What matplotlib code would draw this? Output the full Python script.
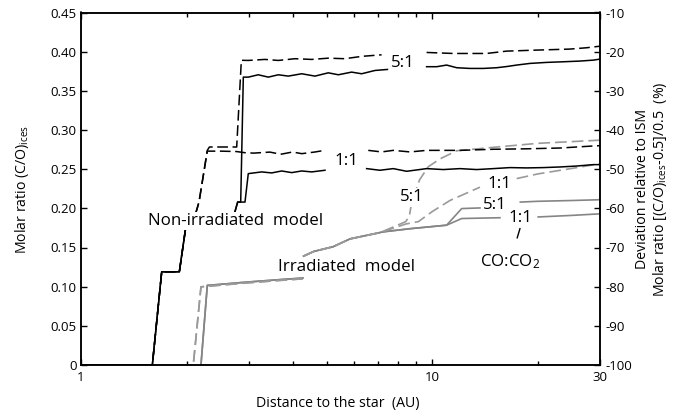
import numpy as np
import matplotlib
matplotlib.use('Agg')
import matplotlib.pyplot as plt
from matplotlib.ticker import NullFormatter

plt.rcParams['font.family'] = ['Open Sans', 'DejaVu Sans']
plt.rcParams['mathtext.fontset'] = 'custom'
plt.rcParams['mathtext.rm'] = 'Open Sans'
plt.rcParams['mathtext.it'] = 'Open Sans'

nan = np.nan

# ---------------- data (distance in AU, molar ratio (C/O)_ices) ----------------
# Non-irradiated model (black)
nonirr_solid_51_x = [1.0, 1.596, 1.697, 1.905, 1.99, 2.05, 2.70, 2.792, 2.848, 2.897, 2.993, 3.195, 3.412,
                     3.645, 3.890, 4.247, 4.634, 5.056, 5.40, 5.89, 6.292, 6.865, 7.45, nan, 9.63, 10.29,
                     10.98, 11.73, 12.79, 13.96, 15.24, 16.27, 17.38, 18.96, 21.15, 23.58, 26.31, 28.71, 30.0]
nonirr_solid_51_y = [0, 0, 0.119, 0.119, 0.178, 0.180, 0.185, 0.208, 0.208, 0.3675, 0.3675, 0.3705, 0.3675,
                     0.3705, 0.3688, 0.3718, 0.3688, 0.373, 0.3705, 0.3739, 0.3718, 0.376, 0.3773, nan, 0.3808,
                     0.3808, 0.3829, 0.3795, 0.3786, 0.3786, 0.3795, 0.381, 0.3829, 0.385, 0.3863, 0.3871,
                     0.388, 0.3892, 0.3905]

nonirr_solid_11_x = [1.0, 1.596, 1.697, 1.905, 1.99, 2.05, 2.70, 2.792, 2.929, 2.993, 3.268, 3.488, 3.726,
                     3.978, 4.247, 4.535, 4.947, nan, 6.50, 7.09, 7.74, 8.45, 9.63, 10.74, 11.98, 13.37,
                     14.9, 16.63, 18.55, 20.69, 23.07, 25.75, 28.71, 30.0]
nonirr_solid_11_y = [0, 0, 0.119, 0.119, 0.178, 0.180, 0.185, 0.208, 0.208, 0.2443, 0.2465, 0.2452, 0.2477,
                     0.2456, 0.2477, 0.2465, 0.2486, nan, 0.2507, 0.2486, 0.2507, 0.2473, 0.2507, 0.2495,
                     0.2507, 0.2495, 0.2507, 0.252, 0.2516, 0.252, 0.2528, 0.254, 0.2558, 0.2558]

nonirr_dash_51_x = [1.0, 1.596, 1.697, 1.905, 1.99, 2.05, 2.125, 2.167, 2.288, 2.32, 2.774, 2.86, 2.993,
                    3.339, 3.643, 4.064, 4.535, 5.056, 5.641, 6.292, 7.17, nan, 9.63, 11.47, 14.27, 16.27,
                    19.81, 24.64, 27.49, 30.0]
nonirr_dash_51_y = [0, 0, 0.119, 0.119, 0.178, 0.185, 0.195, 0.208, 0.274, 0.2783, 0.2783, 0.389, 0.3888,
                    0.3901, 0.3888, 0.391, 0.3901, 0.3917, 0.391, 0.394, 0.396, nan, 0.399, 0.3977, 0.3977,
                    0.4007, 0.402, 0.4033, 0.405, 0.407]

nonirr_dash_11_x = [1.0, 1.596, 1.697, 1.905, 1.99, 2.05, 2.125, 2.167, 2.288, 2.5, 2.77, 2.93, 3.1, 3.45,
                    3.7, 4.0, 4.25, 4.63, 4.95, nan, 6.57, 7.17, 7.74, 8.64, 9.63, 11.98, 14.9, 18.55,
                    23.07, 28.71, 30.0]
nonirr_dash_11_y = [0, 0, 0.119, 0.119, 0.178, 0.185, 0.195, 0.208, 0.273, 0.273, 0.2725, 0.271, 0.2705,
                    0.2718, 0.269, 0.2719, 0.2698, 0.2719, 0.2741, nan, 0.274, 0.272, 0.274, 0.272, 0.274,
                    0.274, 0.2754, 0.276, 0.277, 0.2796, 0.280]

# Irradiated model (grey)
irr_solid_51_x = [2.195, 2.288, 3.0, 3.684, 4.28, nan, 4.30, 4.6, 5.22, 5.83, 7.25, 8.64, 10.98, 12.12,
                  13.66, nan, 17.8, 20.0, 25.0, 30.0]
irr_solid_51_y = [0, 0.1016, 0.106, 0.109, 0.111, nan, 0.139, 0.145, 0.151, 0.161, 0.170, 0.174, 0.1785,
                  0.1997, 0.2005, nan, 0.208, 0.209, 0.210, 0.211]

irr_solid_11_x = [2.195, 2.288, 3.0, 3.684, 4.28, nan, 4.30, 4.6, 5.22, 5.83, 7.25, 8.64, 10.98, 12.12,
                  15.57, nan, 20.01, 25.0, 30.0]
irr_solid_11_y = [0, 0.1016, 0.106, 0.109, 0.111, nan, 0.139, 0.145, 0.151, 0.161, 0.170, 0.174, 0.1785,
                  0.187, 0.188, nan, 0.189, 0.191, 0.193]

irr_dash_51_x = [1.913, 2.087, 2.195, 3.0, 3.684, 4.28, nan, 4.30, 4.6, 5.22, 5.83, 7.1, 8.4, 8.6, 8.75,
                 9.2, 9.73, 10.5, 11.73, 15.0, 20.0, 30.0]
irr_dash_51_y = [0, 0, 0.0998, 0.105, 0.108, 0.110, nan, 0.139, 0.145, 0.151, 0.161, 0.169, 0.183, 0.19,
                 0.21, 0.2365, 0.253, 0.263, 0.2735, 0.278, 0.283, 0.287]

irr_dash_11_x = [1.913, 2.087, 2.195, 3.0, 3.684, 4.28, nan, 4.30, 4.6, 5.22, 5.83, 7.1, 8.4, 9.12, 10.0,
                 11.22, 13.66, nan, 17.38, 20.0, 25.0, 30.0]
irr_dash_11_y = [0, 0, 0.0998, 0.105, 0.108, 0.110, nan, 0.139, 0.145, 0.151, 0.161, 0.169, 0.18, 0.183,
                 0.196, 0.21, 0.227, nan, 0.238, 0.244, 0.251, 0.257]

x_major = [1, 10, 30]
x_major_labels = ['1', '10', '30']
x_minor = [2, 3, 4, 5, 6, 7, 8, 9, 20]
y_ticks = [0, 0.05, 0.10, 0.15, 0.20, 0.25, 0.30, 0.35, 0.40, 0.45]
y_labels = ['0', '0.05', '0.10', '0.15', '0.20', '0.25', '0.30', '0.35', '0.40', '0.45']
dev_ticks = [-100, -90, -80, -70, -60, -50, -40, -30, -20, -10]
dev_labels = ['-100', '-90', '-80', '-70', '-60', '-50', '-40', '-30', '-20', '-10']

# ---------------- figure ----------------
W, H = 691, 417
fig = plt.figure(figsize=(W / 100, H / 100), dpi=100)
L, R, T, B = 81, 600, 12.5, 365
ax = fig.add_axes([L / W, 1 - B / H, (R - L) / W, (B - T) / H])

black = '#000000'
grey_s = '#858585'
grey_d = '#9a9a9a'
lw = 1.1
dash = (7.0, 3.0)

ax.plot(irr_solid_51_x, irr_solid_51_y, color=grey_s, lw=1.2)
ax.plot(irr_solid_11_x, irr_solid_11_y, color=grey_s, lw=1.2)
ax.plot(irr_dash_51_x, irr_dash_51_y, color=grey_d, lw=1.2, dashes=dash)
ax.plot(irr_dash_11_x, irr_dash_11_y, color=grey_d, lw=1.2, dashes=dash)

ax.plot(nonirr_solid_51_x, nonirr_solid_51_y, color=black, lw=lw)
ax.plot(nonirr_solid_11_x, nonirr_solid_11_y, color=black, lw=lw)
ax.plot(nonirr_dash_51_x, nonirr_dash_51_y, color=black, lw=lw, dashes=dash)
ax.plot(nonirr_dash_11_x, nonirr_dash_11_y, color=black, lw=lw, dashes=dash)

ax.set_xscale('log')
ax.set_xlim(1, 30)
ax.set_ylim(0, 0.45)
ax.set_xticks(x_major)
ax.set_xticklabels(x_major_labels)
ax.set_xticks(x_minor, minor=True)
ax.xaxis.set_minor_formatter(NullFormatter())
ax.set_yticks(y_ticks)
ax.set_yticklabels(y_labels)
ax.tick_params(axis='x', which='major', direction='in', top=True, length=4, width=1, pad=4, labelsize=9.5)
ax.tick_params(axis='x', which='minor', direction='in', top=True, length=3, width=1)
ax.tick_params(axis='y', which='major', direction='in', right=False, length=4, width=1, pad=3, labelsize=9.5)
for s in ax.spines.values():
    s.set_linewidth(1.1)

ax2 = ax.twinx()
ax2.set_ylim(-100, -10)
ax2.set_yticks(dev_ticks)
ax2.set_yticklabels(dev_labels)
ax2.tick_params(axis='y', direction='in', length=4, width=1, pad=4, labelsize=9.5)
for s in ax2.spines.values():
    s.set_linewidth(1.1)

# ---------------- annotations ----------------
tfs = 12.2
white = dict(facecolor='white', edgecolor='none', pad=1.0)
ax.text(8.25, 0.385, '5:1', fontsize=tfs, ha='center', va='center')
ax.text(5.71, 0.260, '1:1', fontsize=tfs, ha='center', va='center')
ax.text(2.761, 0.184, 'Non-irradiated  model', fontsize=tfs, ha='center', va='center', bbox=white, zorder=6)
ax.text(5.71, 0.125, 'Irradiated  model', fontsize=tfs, ha='center', va='center')
ax.text(8.72, 0.214, '5:1', fontsize=tfs, ha='center', va='center', bbox=white, zorder=6)
ax.text(15.57, 0.231, '1:1', fontsize=tfs, ha='center', va='center')
ax.text(15.07, 0.204, '5:1', fontsize=tfs, ha='center', va='center')
ax.text(17.76, 0.1874, '1:1', fontsize=tfs, ha='center', va='center')
ax.annotate(r'CO:CO$_{\mathregular{2}}$', xy=(17.76, 0.1743), xytext=(16.63, 0.1313),
            fontsize=tfs, ha='center', va='center',
            arrowprops=dict(arrowstyle='-', color='black', lw=1.0, shrinkA=9, shrinkB=0))

# axis titles
afs = 10.2
fig.text(337.5 / W, 1 - 404 / H, 'Distance to the star  (AU)', fontsize=afs, ha='center', va='center')
fig.text(22 / W, 1 - 189 / H, r'Molar ratio (C/O)$_{\mathregular{ices}}$', fontsize=afs,
         rotation=90, ha='center', va='center')
fig.text(643 / W, 1 - 189 / H, 'Deviation relative to ISM', fontsize=afs, rotation=90,
         ha='center', va='center')
fig.text(660 / W, 1 - 189 / H, r'Molar ratio [(C/O)$_{\mathregular{ices}}$-0.5]/0.5  (%)', fontsize=afs,
         rotation=90, ha='center', va='center')

fig.savefig('out.png', dpi=100)
